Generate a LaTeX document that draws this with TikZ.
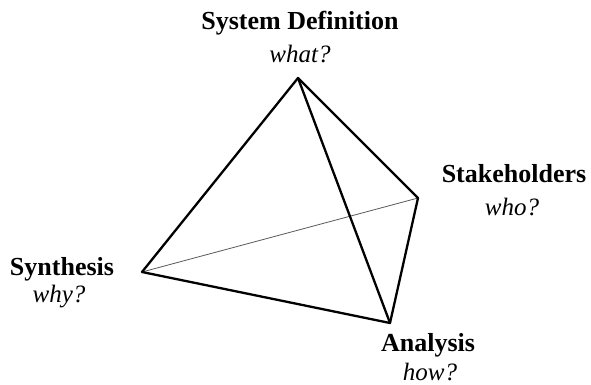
\documentclass[tikz,border=0pt]{standalone}
\usepackage{fontspec}
\setmainfont{Liberation Serif}
\begin{document}
\begin{tikzpicture}[x=1pt,y=-1pt,
  edge/.style={line width=2.3pt,line join=round,line cap=round},
  hidden/.style={line width=0.8pt,gray!70!black},
  lbl/.style={anchor=base,inner sep=0pt,font=\fontsize{26}{30}\selectfont\bfseries},
  sub/.style={anchor=base,inner sep=0pt,font=\fontsize{25}{30}\selectfont\itshape}]
\useasboundingbox (0,0) rectangle (591,385);
\coordinate (T) at (298,78);
\coordinate (R) at (418,198);
\coordinate (L) at (142,272);
\coordinate (B) at (390,323);
\draw[hidden] (L) -- (R);
\draw[edge] (T) -- (L) -- (B) -- (R) -- cycle;
\draw[edge] (T) -- (B);
\node[lbl] (tl) at (300,30) {System Definition};
\node[sub] (ts) at (300,63) {what?};
\node[lbl] (rl) at (514,182) {Stakeholders};
\node[sub] (rs) at (512,215) {who?};
\node[lbl] (ll) at (62,275) {Synthesis};
\node[sub] (ls) at (59,302) {why?};
\node[lbl] (bl) at (428,351) {Analysis};
\node[sub] (bs) at (430,380) {how?};
\end{tikzpicture}
\end{document}
